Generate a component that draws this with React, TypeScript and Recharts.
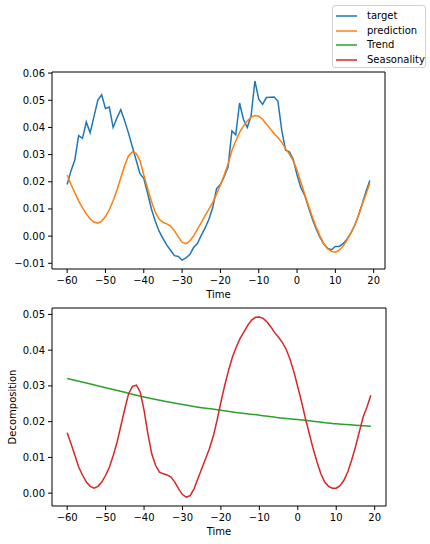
import { LineChart, Line, XAxis, YAxis, ReferenceLine } from "recharts";

const time = [
  -60, -59, -58, -57, -56, -55, -54, -53, -52, -51, -50, -49, -48, -47, -46, -45, -44, -43, -42, -41,
  -40, -39, -38, -37, -36, -35, -34, -33, -32, -31, -30, -29, -28, -27, -26, -25, -24, -23, -22, -21,
  -20, -19, -18, -17, -16, -15, -14, -13, -12, -11, -10, -9, -8, -7, -6, -5, -4, -3, -2, -1,
  0, 1, 2, 3, 4, 5, 6, 7, 8, 9, 10, 11, 12, 13, 14, 15, 16, 17, 18, 19,
];

const target = [
  0.019, 0.024, 0.028, 0.037, 0.036, 0.042, 0.038, 0.044, 0.05, 0.052, 0.047, 0.0475, 0.04, 0.0435, 0.0465, 0.0425, 0.038, 0.033, 0.028, 0.023,
  0.0213, 0.0158, 0.01, 0.0055, 0.0018, -0.0008, -0.0033, -0.0052, -0.0072, -0.0075, -0.0088, -0.008, -0.0068, -0.0042, -0.0027, 0.0003, 0.003, 0.0062, 0.0105, 0.0175,
  0.019, 0.022, 0.0255, 0.0387, 0.0373, 0.049, 0.043, 0.04, 0.0442, 0.0571, 0.0504, 0.0485, 0.051, 0.0511, 0.0512, 0.0497, 0.039, 0.0316, 0.031, 0.0283,
  0.0225, 0.0178, 0.015, 0.0105, 0.0063, 0.0026, -0.0005, -0.003, -0.0045, -0.005, -0.0038, -0.0038, -0.0028, -0.0012, 0.001, 0.0038, 0.0075, 0.0118, 0.0165, 0.0205,
];

const prediction = [
  0.0225, 0.019, 0.016, 0.013, 0.0105, 0.0082, 0.0063, 0.0052, 0.0048, 0.0055, 0.0072, 0.0097, 0.013, 0.017, 0.0215, 0.026, 0.0295, 0.031, 0.0305, 0.0278,
  0.0225, 0.0175, 0.0128, 0.0088, 0.0063, 0.0051, 0.0045, 0.0037, 0.002, -0.0003, -0.0022, -0.0028, -0.0018, 0.0001, 0.0025, 0.005, 0.0075, 0.0099, 0.0124, 0.0155,
  0.0188, 0.0225, 0.0265, 0.0315, 0.035, 0.0382, 0.0405, 0.0424, 0.0438, 0.0444, 0.0441, 0.043, 0.0413, 0.0395, 0.0378, 0.0363, 0.0345, 0.0322, 0.0302, 0.0278,
  0.0242, 0.0198, 0.0154, 0.0112, 0.007, 0.0033, 0.0, -0.0028, -0.0047, -0.0056, -0.0059, -0.0052, -0.0037, -0.0016, 0.001, 0.0038, 0.0075, 0.0117, 0.0155, 0.0195,
];

const seasonality = [
  0.0169, 0.0138, 0.0106, 0.0073, 0.005, 0.0031, 0.0019, 0.0014, 0.0019, 0.0031, 0.005, 0.0073, 0.0106, 0.0143, 0.019, 0.0236, 0.0279, 0.0299, 0.0302, 0.0283,
  0.0232, 0.0166, 0.011, 0.0078, 0.0059, 0.0054, 0.0051, 0.0045, 0.0031, 0.0012, -0.0004, -0.0011, -0.0007, 0.0012, 0.004, 0.0068, 0.0096, 0.0124, 0.0159, 0.0204,
  0.0255, 0.0302, 0.0344, 0.0381, 0.0409, 0.0433, 0.0451, 0.047, 0.0484, 0.0492, 0.0493, 0.0489, 0.0479, 0.0465, 0.0449, 0.0436, 0.0421, 0.0402, 0.0374, 0.0339,
  0.0297, 0.0255, 0.0208, 0.0166, 0.0124, 0.0087, 0.0054, 0.0031, 0.0019, 0.0014, 0.0014, 0.0021, 0.0036, 0.0059, 0.0092, 0.0129, 0.0171, 0.0213, 0.0241, 0.0274,
];

// trend read at every 5 steps
const trendTime = [-60, -55, -50, -45, -40, -35, -30, -25, -20, -15, -10, -5, 0, 5, 10, 15, 19];
const trend = [0.0321, 0.0308, 0.0295, 0.0282, 0.0269, 0.0258, 0.0248, 0.0239, 0.0232, 0.0224, 0.0218, 0.0211, 0.0206, 0.02, 0.0194, 0.019, 0.0187];

const xTicks = [-60, -50, -40, -30, -20, -10, 0, 10, 20];
const topYTicks = [-0.01, 0, 0.01, 0.02, 0.03, 0.04, 0.05, 0.06];
const bottomYTicks = [0, 0.01, 0.02, 0.03, 0.04, 0.05];

const rows = time.map((t, i) => {
  const k = trendTime.indexOf(t);
  return {
    t,
    target: target[i],
    prediction: prediction[i],
    seasonality: seasonality[i],
    trend: k >= 0 ? trend[k] : null,
  };
});

const FONT = "DejaVu Sans, sans-serif";
const tickStyle = { fontSize: 10, fill: "#000", fontFamily: FONT };
const minus = (s: string) => s.replace("-", "\u2212");
const fmtX = (v: number) => minus(String(v));
const fmtY = (v: number) => minus(v.toFixed(2));
const xDomain = [-63.95, 22.95];
const topYDomain = [-0.0121, 0.0604];
const bottomYDomain = [-0.0036, 0.0518];

const legendItems = [
  { name: "target", color: "#1f77b4" },
  { name: "prediction", color: "#ff7f0e" },
  { name: "Trend", color: "#2ca02c" },
  { name: "Seasonality", color: "#d62728" },
];

// top and right spines
function Frame(yMax: number) {
  return [
    <ReferenceLine key="ft" y={yMax} stroke="#000" strokeWidth={1} />,
    <ReferenceLine key="fr" x={xDomain[1]} stroke="#000" strokeWidth={1} />,
  ];
}

function YLabel(props: any) {
  const vb = props.viewBox;
  const y = vb.y + vb.height / 2;
  return (
    <text x={12} y={y} transform={`rotate(-90, 12, ${y})`} textAnchor="middle" dominantBaseline="central" fontSize={10} fontFamily={FONT} fill="#000">
      Decomposition
    </text>
  );
}

export default function App() {
  return (
    <div style={{ position: "absolute", left: 0, top: 0, width: 430, height: 544, background: "#fff", fontFamily: FONT }}>
      <div style={{ position: "absolute", left: 0, top: 0 }}>
        <LineChart width={430} height={300} data={rows} margin={{ top: 72, right: 45, left: 0, bottom: 0 }}>
          <XAxis dataKey="t" type="number" domain={xDomain} allowDataOverflow ticks={xTicks} tickFormatter={fmtX} tick={tickStyle} tickSize={4} tickMargin={4} height={31} stroke="#000"
            label={{ value: "Time", position: "insideBottom", offset: 2, fontSize: 10, fill: "#000", fontFamily: FONT }} />
          <YAxis type="number" domain={topYDomain} allowDataOverflow ticks={topYTicks} tickFormatter={fmtY} tick={tickStyle} tickSize={4} tickMargin={3} width={52} stroke="#000" />
          {Frame(topYDomain[1])}
          <Line dataKey="target" type="linear" stroke="#1f77b4" strokeWidth={1.5} dot={false} isAnimationActive={false} />
          <Line dataKey="prediction" type="linear" stroke="#ff7f0e" strokeWidth={1.5} dot={false} isAnimationActive={false} />
        </LineChart>
      </div>
      <div style={{ position: "absolute", left: 0, top: 300 }}>
        <LineChart width={430} height={244} data={rows} margin={{ top: 8, right: 44, left: 0, bottom: 0 }}>
          <XAxis dataKey="t" type="number" domain={xDomain} allowDataOverflow ticks={xTicks} tickFormatter={fmtX} tick={tickStyle} tickSize={4} tickMargin={4} height={38} stroke="#000"
            label={{ value: "Time", position: "insideBottom", offset: 9, fontSize: 10, fill: "#000", fontFamily: FONT }} />
          <YAxis type="number" domain={bottomYDomain} allowDataOverflow ticks={bottomYTicks} tickFormatter={fmtY} tick={tickStyle} tickSize={4} tickMargin={3} width={52} stroke="#000"
            label={{ content: YLabel }} />
          {Frame(bottomYDomain[1])}
          <Line dataKey="trend" type="monotone" connectNulls stroke="#2ca02c" strokeWidth={1.5} dot={false} isAnimationActive={false} />
          <Line dataKey="seasonality" type="linear" stroke="#d62728" strokeWidth={1.5} dot={false} isAnimationActive={false} />
        </LineChart>
      </div>
      <div style={{ position: "absolute", left: 332, top: 5, width: 94, height: 63, boxSizing: "border-box", border: "1px solid #d0d0d0", borderRadius: 3, background: "#fff" }}>
        {legendItems.map((it, i) => (
          <div key={it.name} style={{ position: "absolute", left: 3, top: 3 + i * 14.5, height: 14, display: "flex", alignItems: "center" }}>
            <svg width={22} height={14} style={{ display: "block" }}>
              <line x1={0} y1={7} x2={21} y2={7} stroke={it.color} strokeWidth={1.5} />
            </svg>
            <span style={{ marginLeft: 9, fontSize: 10, color: "#000", lineHeight: "14px", whiteSpace: "nowrap" }}>{it.name}</span>
          </div>
        ))}
      </div>
    </div>
  );
}
